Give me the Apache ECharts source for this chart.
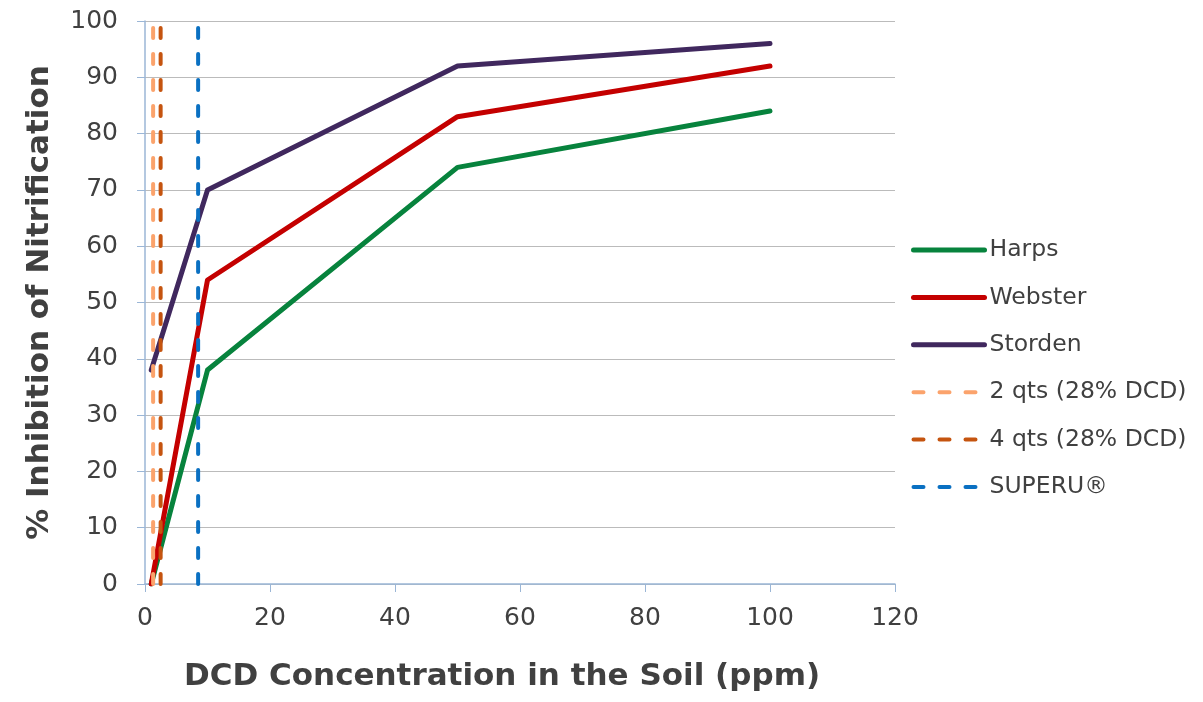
<!DOCTYPE html>
<html>
<head>
<meta charset="utf-8">
<script src="https://cdn.jsdelivr.net/npm/echarts@6/dist/echarts.min.js"></script>
<style>
  html, body { margin: 0; padding: 0; background: #fff; }
  #chart { width: 1203px; height: 702px; }
</style>
</head>
<body>
<div id="chart"></div>
<script>
// ===== Data =====
const concentrations = [1, 10, 50, 100];
const harps = [0, 38, 74, 84];
const webster = [0, 54, 83, 92];
const storden = [38, 70, 92, 96];

// vertical reference lines
const refNames = ['2 qts (28% DCD)', '4 qts (28% DCD)', 'SUPERU®'];
const refPpm = [1.3, 2.5, 8.5];
const refColors = ['#FBA36C', '#C5540F', '#0A70C2'];

const xTicks = { min: 0, max: 120, interval: 20 };
const yTicks = { min: 0, max: 100, interval: 10 };

const FONT = '"DejaVu Sans", "Liberation Sans", Arial, sans-serif';
const TEXT = '#404040';
const AXIS_BLUE = '#9BB6D6';

// ===== Build series =====
function pairs(xs, ys) {
  return xs.map((x, i) => [x, ys[i]]);
}

const solidSeries = [
  { name: 'Harps', data: harps, color: '#07833D' },
  { name: 'Webster', data: webster, color: '#C40000' },
  { name: 'Storden', data: storden, color: '#40285E' }
].map(s => ({
  name: s.name,
  type: 'line',
  data: pairs(concentrations, s.data),
  symbol: 'none',
  color: s.color,
  lineStyle: { color: s.color, width: 5, cap: 'round', join: 'round' },
  z: 3
}));

const refSeries = refNames.map((name, i) => ({
  name: name,
  type: 'line',
  data: [[refPpm[i], yTicks.min], [refPpm[i], yTicks.max]],
  symbol: 'none',
  color: refColors[i],
  lineStyle: { color: refColors[i], width: 4, type: [10, 16], cap: 'round' },
  z: 4
}));

// ===== Chart =====
const chart = echarts.init(document.getElementById('chart'), null, { renderer: 'canvas' });

chart.setOption({
  animation: false,
  backgroundColor: '#fff',
  textStyle: { fontFamily: FONT },
  grid: { left: 145, right: 308, top: 21, bottom: 118, containLabel: false },
  legend: {
    orient: 'vertical',
    left: 911,
    top: 238,
    padding: 0,
    itemWidth: 71,
    itemHeight: 24,
    itemGap: 23.4,
    itemStyle: { opacity: 0 },
    lineStyle: { width: 'inherit' },
    textStyle: { fontFamily: FONT, fontSize: 23.5, lineHeight: 24, color: TEXT, padding: [0, 0, 0, 0] },
    data: solidSeries.map(s => s.name).concat(refNames)
  },
  xAxis: {
    type: 'value',
    min: xTicks.min, max: xTicks.max, interval: xTicks.interval,
    axisLine: { show: true, lineStyle: { color: AXIS_BLUE, width: 1.5 } },
    axisTick: { show: true, length: 8, lineStyle: { color: AXIS_BLUE } },
    axisLabel: { fontFamily: FONT, fontSize: 25, color: TEXT, margin: 22 },
    splitLine: { show: false }
  },
  yAxis: {
    type: 'value',
    min: yTicks.min, max: yTicks.max, interval: yTicks.interval,
    name: '% Inhibition of Nitrification',
    nameLocation: 'middle',
    nameGap: 90,
    nameTextStyle: { fontFamily: FONT, fontSize: 31, fontWeight: 'bold', color: TEXT },
    axisLine: { show: true, lineStyle: { color: AXIS_BLUE, width: 1.5 } },
    axisTick: { show: true, length: 8, lineStyle: { color: AXIS_BLUE } },
    axisLabel: { fontFamily: FONT, fontSize: 25, color: TEXT, margin: 27 },
    splitLine: { show: true, lineStyle: { color: '#BBBBBB', width: 1 } }
  },
  graphic: [{
    type: 'text',
    left: 184,
    top: 661,
    style: {
      text: 'DCD Concentration in the Soil (ppm)',
      font: 'bold 31px ' + FONT,
      fill: TEXT
    }
  }],
  series: solidSeries.concat(refSeries)
});
</script>
</body>
</html>
